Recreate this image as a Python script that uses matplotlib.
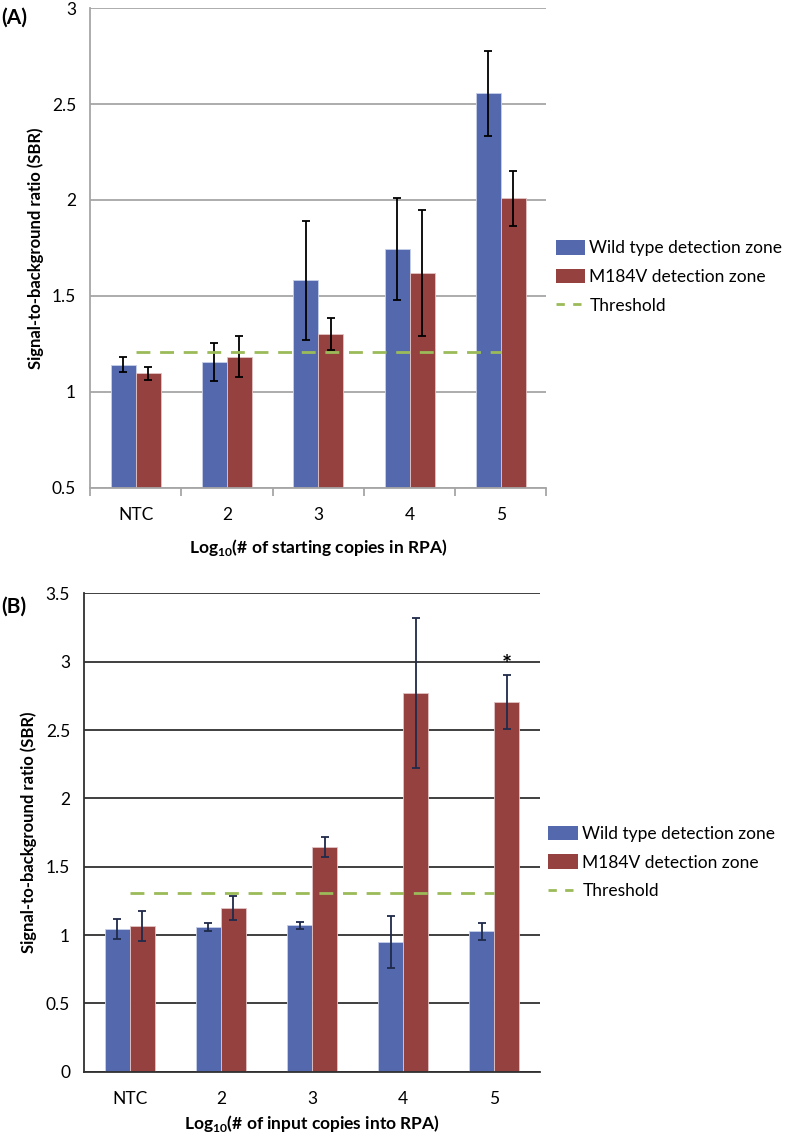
import numpy as np
import matplotlib
matplotlib.use("Agg")
import matplotlib.pyplot as plt
from matplotlib.patches import Patch
from matplotlib.lines import Line2D
from matplotlib.ticker import FormatStrFormatter

plt.rcParams['font.family'] = ['Lato', 'DejaVu Sans']
plt.rcParams['mathtext.fontset'] = 'custom'
plt.rcParams['mathtext.rm'] = 'Lato'
plt.rcParams['mathtext.bf'] = 'Lato:bold'

categories = ['NTC', '2', '3', '4', '5']

# panel A
wt_a = [1.14, 1.155, 1.58, 1.744, 2.556]
wt_a_err = [0.04, 0.10, 0.31, 0.264, 0.222]
mut_a = [1.095, 1.182, 1.302, 1.62, 2.008]
mut_a_err = [0.035, 0.108, 0.083, 0.33, 0.142]
thr_a = 1.205

# panel B
wt_b = [1.046, 1.059, 1.071, 0.949, 1.027]
wt_b_err = [0.073, 0.030, 0.027, 0.188, 0.061]
mut_b = [1.063, 1.198, 1.641, 2.773, 2.705]
mut_b_err = [0.11, 0.085, 0.073, 0.55, 0.20]
thr_b = 1.31

blue = '#5469ad'
red = '#954140'
green = '#9bbb59'

fig = plt.figure(figsize=(7.88, 11.34), dpi=100)
axA = fig.add_axes([0.1142, 0.5701, 0.5793, 0.4226])
axB = fig.add_axes([0.1066, 0.0549, 0.5787, 0.4219])

x = np.arange(len(categories))
w = 0.274


def draw(ax, wt, wt_err, mut, mut_err, thr, ecol, gcol, ylim, xlabel, ticks, xpad):
    ax.bar(x - w / 2, wt, w, bottom=0, color=blue, edgecolor='#c8d0ea', linewidth=0.6, zorder=2)
    ax.bar(x + w / 2, mut, w, color=red, edgecolor='#e2c4c4', linewidth=0.6, zorder=2)
    ax.errorbar(x - w / 2, wt, yerr=wt_err, fmt='none', ecolor=ecol, elinewidth=1.3,
                capsize=3, capthick=1.3, zorder=3)
    ax.errorbar(x + w / 2, mut, yerr=mut_err, fmt='none', ecolor=ecol, elinewidth=1.3,
                capsize=3, capthick=1.3, zorder=3)
    ax.plot([0, len(categories) - 1], [thr, thr], color=green, linestyle=(0, (5, 3.5)),
            linewidth=2, zorder=4)
    ax.set_xlim(-0.5, len(categories) - 0.5)
    ax.set_ylim(*ylim)
    ax.set_yticks(ticks)
    ax.yaxis.set_major_formatter(FormatStrFormatter('%g'))
    ax.yaxis.grid(True, color=gcol, linewidth=1.3, zorder=0)
    ax.set_axisbelow(True)
    ax.set_xticks(x)
    ax.set_xticklabels(categories, fontsize=12.5)
    ax.tick_params(axis='y', labelsize=12.5, length=0, pad=10)
    for s in ['top', 'right']:
        ax.spines[s].set_visible(False)
    for s in ['left', 'bottom']:
        ax.spines[s].set_color(gcol)
        ax.spines[s].set_linewidth(1.3)
    ax.set_ylabel('Signal-to-background ratio (SBR)', fontsize=12, fontweight='bold', labelpad=6)
    ax.set_xlabel(xlabel, fontsize=12.5, fontweight='bold', labelpad=xpad)


draw(axA, wt_a, wt_a_err, mut_a, mut_a_err, thr_a, 'black', '#a6a6a6', (0.5, 3),
     r'Log$_{\mathbf{10}}$(# of starting copies in RPA)', np.arange(0.5, 3.01, 0.5), 10)
axA.set_xticks(np.arange(-0.5, 5.0, 1.0), minor=True)
axA.tick_params(axis='x', which='major', length=0, pad=14)
axA.tick_params(axis='x', which='minor', length=6, color='#a6a6a6', width=1.3)

draw(axB, wt_b, wt_b_err, mut_b, mut_b_err, thr_b, '#1f2a4a', '#303030', (0, 3.5),
     r'Log$_{\mathbf{10}}$(# of input copies into RPA)', np.arange(0, 3.51, 0.5), 4)
axB.tick_params(axis='x', length=0, pad=14)
axB.text(x[4] + w / 2, 2.97, '*', ha='center', va='center', fontsize=17, fontweight='bold')

fig.text(0.002, 0.984, '(A)', fontsize=15, fontweight='bold', va='center')
fig.text(0.002, 0.4647, '(B)', fontsize=15, fontweight='bold', va='center')

handles = [Patch(facecolor=blue), Patch(facecolor=red),
           Line2D([], [], color=green, linestyle=(0, (3, 3)), linewidth=2)]
labels = ['Wild type detection zone', 'M184V detection zone', 'Threshold']
fig.legend(handles, labels, loc='center left', bbox_to_anchor=(0.705, 0.7557), frameon=False,
           fontsize=12.5, handlelength=1.7, handleheight=0.9, handletextpad=0.25,
           labelspacing=0.72, borderaxespad=0, borderpad=0)
fig.legend(handles, labels, loc='center left', bbox_to_anchor=(0.696, 0.2395), frameon=False,
           fontsize=12.5, handlelength=1.7, handleheight=0.9, handletextpad=0.25,
           labelspacing=0.72, borderaxespad=0, borderpad=0)

fig.savefig('out.png', dpi=100)
